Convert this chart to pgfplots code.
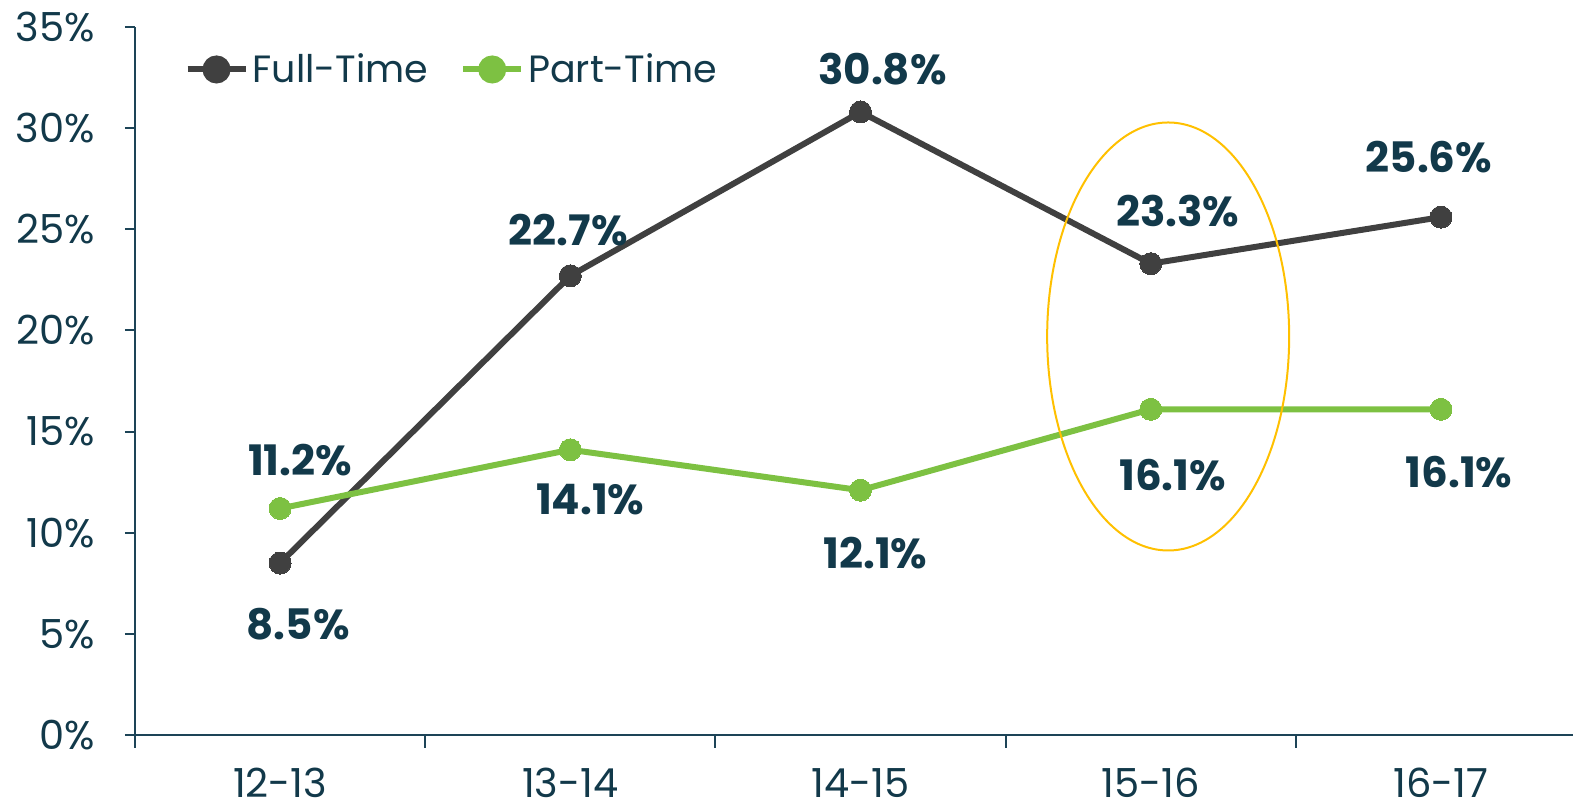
\documentclass[border=0pt]{standalone}
\usepackage{pgfplots}
\pgfplotsset{compat=1.18}
\usepackage{fontspec}
\setmainfont{Poppins}
\definecolor{txt}{HTML}{12394A}
\definecolor{axc}{HTML}{1D4457}
\definecolor{dark}{HTML}{404040}
\definecolor{grn}{HTML}{7DC142}
\definecolor{gold}{HTML}{FFC000}
\begin{document}
\begin{tikzpicture}
\begin{axis}[
  scale only axis,
  width=719pt, height=354pt,
  xmin=-0.5, xmax=4.455,
  ymin=0, ymax=35,
  axis lines=left,
  axis line style={axc, line width=1pt, -},
  xtick={0,1,2,3,4},
  xticklabels={12-13,13-14,14-15,15-16,16-17},
  minor xtick={-0.5,0.5,1.5,2.5,3.5},
  major x tick style={draw=none},
  minor x tick style={axc, line width=1pt},
  minor tick length=6.5pt,
  ytick={0,5,...,35},
  yticklabel={\pgfmathprintnumber{\tick}\%},
  y tick style={axc, line width=1pt},
  major tick length=5pt,
  tick align=outside,
  /pgf/number format/assume math mode=true,
  ticklabel style={font=\fontsize{20}{24}\selectfont, text=txt},
  xticklabel style={yshift=-8pt},
  yticklabel style={xshift=-11.5pt},
  clip=false,
  legend columns=2,
  legend style={at={(0.03,0.94)}, anchor=west, draw=none, fill=none,
    font=\fontsize{19}{23}\selectfont, text=txt,
    /tikz/every even column/.append style={column sep=14pt}},
  legend image code/.code={
    \draw[#1, mark=none] (0pt,0pt) -- (29pt,0pt);
    \fill[#1] (14.5pt,0pt) circle (5.5pt);
  },
]
\addplot[dark, line width=3pt, mark=*, mark size=5.5pt, mark options={fill=dark, draw=dark, line width=0pt}]
  coordinates {(0,8.5) (1,22.7) (2,30.8) (3,23.3) (4,25.6)};
\addlegendentry{Full-Time}
\addplot[grn, line width=3pt, mark=*, mark size=5.5pt, mark options={fill=grn, draw=grn, line width=0pt}]
  coordinates {(0,11.2) (1,14.1) (2,12.1) (3,16.1) (4,16.1)};
\addlegendentry{Part-Time}
\begin{scope}[every node/.style={font=\fontsize{21}{25}\selectfont\bfseries, text=txt}]
\node at ([shift={(9pt,-30.5pt)}]axis cs:0,8.5) {8.5\%};
\node at ([shift={(-1pt,23pt)}]axis cs:1,22.7) {22.7\%};
\node at ([shift={(11pt,21.5pt)}]axis cs:2,30.8) {30.8\%};
\node at ([shift={(13.5pt,26.5pt)}]axis cs:3,23.3) {23.3\%};
\node at ([shift={(-6pt,30pt)}]axis cs:4,25.6) {25.6\%};
\node at ([shift={(10pt,24pt)}]axis cs:0,11.2) {11.2\%};
\node at ([shift={(10pt,-25pt)}]axis cs:1,14.1) {14.1\%};
\node at ([shift={(7.5pt,-31.5pt)}]axis cs:2,12.1) {12.1\%};
\node at ([shift={(11pt,-33pt)}]axis cs:3,16.1) {16.1\%};
\node at ([shift={(9pt,-31.5pt)}]axis cs:4,16.1) {16.1\%};
\end{scope}
\draw[gold, line width=1pt] (axis cs:3.06,19.7) ellipse [x radius=60.5pt, y radius=107pt];
\coordinate (bl) at (rel axis cs:0,0);
\coordinate (tr) at (rel axis cs:1,1);
\end{axis}
\pgfresetboundingbox
\path ([shift={(-67.5pt,-37.5pt)}]bl) rectangle ([shift={(0pt,13.5pt)}]tr);
\end{tikzpicture}
\end{document}
